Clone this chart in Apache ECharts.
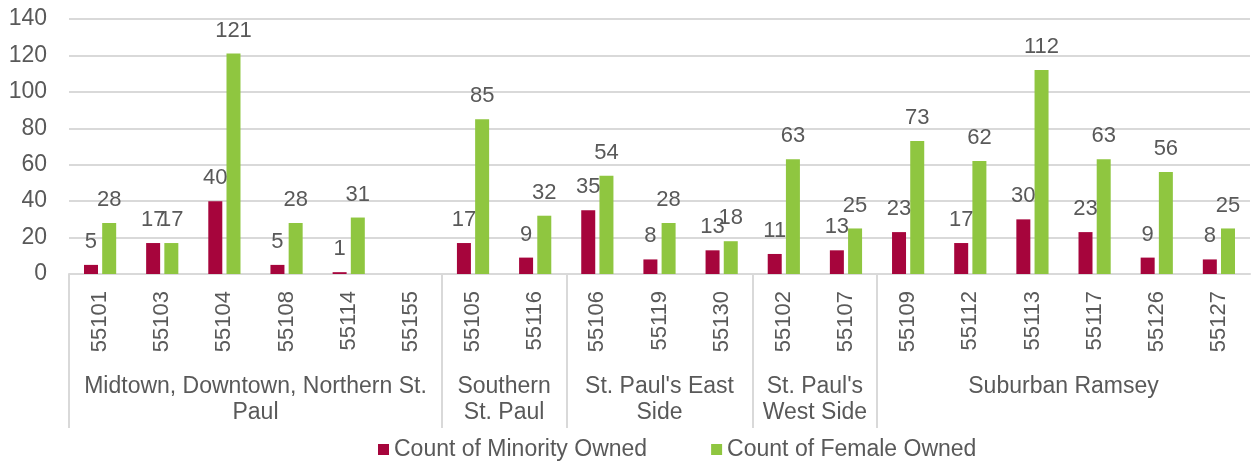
<!DOCTYPE html>
<html lang="en">
<head>
    <meta charset="UTF-8">
    <title>Minority and Female Owned Businesses by ZIP</title>
    <script src="https://cdn.jsdelivr.net/npm/echarts@6/dist/echarts.min.js"></script>
</head>
<body style="margin:0">
<div id="main" style="width:1254px; height:468px;"></div>
<script>
    // data
    var zips = ['55101','55103','55104','55108','55114','55155',
                '55105','55116',
                '55106','55119','55130',
                '55102','55107',
                '55109','55112','55113','55117','55126','55127'];
    var minority = [5, 17, 40, 5, 1, null, 17, 9, 35, 8, 13, 11, 13, 23, 17, 30, 23, 9, 8];
    var female = [28, 17, 121, 28, 31, null, 85, 32, 54, 28, 18, 63, 25, 73, 62, 112, 63, 56, 25];
    var groupNames = ['Midtown, Downtown, Northern St.\nPaul', 'Southern\nSt. Paul',
                      "St. Paul's East\nSide", "St. Paul's\nWest Side", 'Suburban Ramsey'];
    var groupSizes = [6, 2, 3, 2, 6];
    var yTicks = [0, 20, 40, 60, 80, 100, 120, 140];

    // group boundaries and centers on a 0..n scale
    var bounds = [0];
    var centers = [];
    groupSizes.forEach(function (s, i) {
        centers.push(bounds[i] + s / 2);
        bounds.push(bounds[i] + s);
    });

    var font = 'Liberation Sans, Arial, sans-serif';
    var txt = '#595959';
    var line = '#d9d9d9';

    var myChart = echarts.init(document.getElementById('main'));
    var option = {
        textStyle: {fontFamily: font},
        grid: {left: 69, right: 4, top: 19, bottom: 194},
        legend: {
            data: ['Count of Minority Owned', 'Count of Female Owned'],
            left: 373,
            bottom: 2,
            itemWidth: 11,
            itemHeight: 11,
            itemGap: 64,
            icon: 'rect',
            textStyle: {color: txt, fontSize: 23, fontFamily: font}
        },
        xAxis: [
            {
                type: 'category',
                data: zips,
                axisLine: {lineStyle: {color: line, width: 2}},
                axisTick: {show: false},
                axisLabel: {rotate: 90, color: txt, fontSize: 22, margin: 17, fontFamily: font}
            },
            {
                type: 'value',
                position: 'bottom',
                min: 0,
                max: zips.length,
                splitLine: {show: false},
                axisLine: {show: false},
                axisTick: {show: true, customValues: bounds.slice(0, -1), length: 154,
                           lineStyle: {color: line, width: 2}},
                axisLabel: {
                    customValues: centers,
                    color: txt,
                    fontSize: 23,
                    fontFamily: font,
                    margin: 100,
                    verticalAlign: 'top',
                    lineHeight: 26,
                    formatter: function (v) {
                        var i = centers.indexOf(v);
                        return i >= 0 ? groupNames[i] : '';
                    }
                }
            }
        ],
        yAxis: {
            type: 'value',
            min: yTicks[0],
            max: yTicks[yTicks.length - 1],
            interval: 20,
            axisLine: {show: false},
            axisTick: {show: false},
            splitLine: {lineStyle: {color: line, width: 2}},
            axisLabel: {color: txt, fontSize: 23, margin: 22, fontFamily: font}
        },
        series: [
            {
                name: 'Count of Minority Owned',
                type: 'bar',
                data: minority,
                barWidth: 14,
                barGap: '30%',
                itemStyle: {color: '#a6053c'},
                label: {show: true, position: 'top', distance: 12, color: txt, fontSize: 22, fontFamily: font}
            },
            {
                name: 'Count of Female Owned',
                type: 'bar',
                data: female,
                barWidth: 14,
                barGap: '30%',
                itemStyle: {color: '#8fc640'},
                label: {show: true, position: 'top', distance: 12, color: txt, fontSize: 22, fontFamily: font}
            }
        ]
    };
    myChart.setOption(option);
</script>
</body>
</html>
